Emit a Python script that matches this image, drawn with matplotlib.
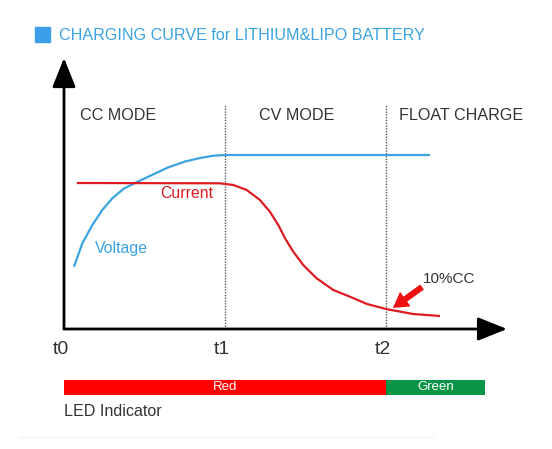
import matplotlib
matplotlib.use("Agg")
import matplotlib.pyplot as plt
from matplotlib.patches import Rectangle

plt.rcParams['font.family'] = ['Liberation Sans', 'DejaVu Sans']

# ---- data (time in units of t-marks, value in arbitrary units) ----
volt_t = [0.062, 0.114, 0.176, 0.238, 0.300, 0.373, 0.460, 0.553, 0.646, 0.752, 0.845, 0.925, 1.000, 2.273]
volt_v = [0.623, 0.857, 1.040, 1.190, 1.307, 1.405, 1.475, 1.545, 1.615, 1.675, 1.710, 1.732, 1.740, 1.740]

curr_t = [0.080, 0.969, 1.052, 1.135, 1.217, 1.279, 1.331, 1.373, 1.424, 1.486, 1.569,
          1.673, 1.776, 1.882, 2.000, 2.168, 2.335]
curr_v = [1.460, 1.457, 1.440, 1.390, 1.290, 1.173, 1.040, 0.907, 0.773, 0.640, 0.507,
          0.390, 0.323, 0.250, 0.200, 0.150, 0.130]

tick_pos = [0, 1, 2]
tick_labels = ['t0', 't1', 't2']
mode_labels = ['CC MODE', 'CV MODE', 'FLOAT CHARGE']
mode_pos = [0.099, 1.211, 2.081]
led_labels = ['Red', 'Green']
led_start = [0, 2]
led_end = [2, 2.615]
led_colors = ['#ff0000', '#0a9447']

BLUE = '#3ba3e0'
RED = '#dd1c22'
DARK = '#333333'

fig = plt.figure(figsize=(5.52, 4.49), dpi=100)
ax = fig.add_axes([0, 0, 1, 1])
ax.set_xlim(-64 / 161, (552 - 64) / 161)
ax.set_ylim(-1.20, 3.29)
ax.axis('off')

# title
fig.patches.append(Rectangle((35 / 552, 1 - 42 / 449), 15 / 552, 15 / 449,
                             transform=fig.transFigure, color='#3a9fe8'))
fig.text(59 / 552, 1 - 35 / 449, 'CHARGING CURVE for LITHIUM&LIPO BATTERY',
         color=BLUE, fontsize=11.6, va='center', ha='left')

# axes arrows
ax.annotate('', xy=(2.752, 0), xytext=(0, 0),
            arrowprops=dict(arrowstyle='-|>,head_length=1.8,head_width=0.72',
                            mutation_scale=10, lw=2, color='black',
                            shrinkA=0, shrinkB=0))
ax.annotate('', xy=(0, 2.71), xytext=(0, 0),
            arrowprops=dict(arrowstyle='-|>,head_length=1.8,head_width=0.72',
                            mutation_scale=10, lw=2, color='black',
                            shrinkA=0, shrinkB=0))

# dotted mode separators
for t in tick_pos[1:]:
    ax.plot([t, t], [0, 2.24], linestyle=(0, (1, 1)), color='#555555', lw=1)

# curves
ax.plot(volt_t, volt_v, color=BLUE, lw=1.6, solid_capstyle='butt', solid_joinstyle='round')
ax.plot(curr_t, curr_v, color=RED, lw=1.6, solid_capstyle='butt', solid_joinstyle='round')

# labels
for lab, x in zip(mode_labels, mode_pos):
    ax.text(x, 2.14, lab, fontsize=11.6, color=DARK, ha='left', va='center')
ax.text(0.596, 1.36, 'Current', fontsize=11.4, color=RED, ha='left', va='center')
ax.text(0.193, 0.80, 'Voltage', fontsize=11.4, color=BLUE, ha='left', va='center')
for t, lab in zip(tick_pos, tick_labels):
    ax.text(t - 0.02, -0.21, lab, fontsize=14, color=DARK, ha='center', va='center')

# 10%CC arrow
ax.annotate('', xy=(2.043, 0.21), xytext=(2.224, 0.42),
            arrowprops=dict(arrowstyle='simple,head_length=1.1,head_width=1.3,tail_width=0.45',
                            mutation_scale=10, color='#ee1111', lw=0,
                            shrinkA=0, shrinkB=0))
ax.text(2.230, 0.50, '10%CC', fontsize=11, color=DARK, ha='left', va='center')

# LED indicator bar
for s, e, c, lab in zip(led_start, led_end, led_colors, led_labels):
    ax.barh(-0.585, e - s, left=s, height=0.155, color=c, linewidth=0)
    ax.text((s + e) / 2, -0.585, lab, fontsize=9.5, color='white', ha='center', va='center')
ax.text(0, -0.83, 'LED Indicator', fontsize=11.6, color=DARK, ha='left', va='center')

# faint separator
ax.plot([(20 - 64) / 161, (433 - 64) / 161], [-1.08, -1.08], color='#f3f3f3', lw=1)

fig.savefig('out.png', dpi=100, facecolor='white')
